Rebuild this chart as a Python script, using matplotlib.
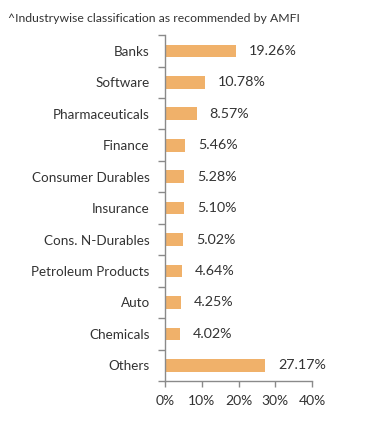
import matplotlib
matplotlib.use("Agg")
import matplotlib.pyplot as plt
import numpy as np

categories = ["Banks", "Software", "Pharmaceuticals", "Finance", "Consumer Durables",
              "Insurance", "Cons. N-Durables", "Petroleum Products", "Auto", "Chemicals", "Others"]
values = [19.26, 10.78, 8.57, 5.46, 5.28, 5.10, 5.02, 4.64, 4.25, 4.02, 27.17]
xticks = [0, 10, 20, 30, 40]
title = "^Industrywise classification as recommended by AMFI"

plt.rcParams['font.family'] = ['Lato', 'DejaVu Sans']
text_color = "#333333"
spine_color = "#8a8a8a"
bar_color = "#F0B16A"

fig = plt.figure(figsize=(3.91, 4.34), dpi=100)
ax = fig.add_axes([0.422, 0.122, 0.376, 0.797])

y = np.arange(len(categories))
ax.barh(y, values, height=0.4, color=bar_color)
ax.set_ylim(len(categories) - 0.5, -0.5)
ax.set_xlim(0, 40)

for yi, v in zip(y, values):
    ax.annotate(f"{v:.2f}%", (v, yi), xytext=(9.5, 0), textcoords="offset points",
                va="center", ha="left", fontsize=10.3, color=text_color)

ax.set_yticks(y)
ax.set_yticklabels(categories)
ax.set_yticks(np.arange(-0.5, len(categories), 1.0), minor=True)
ax.tick_params(axis="y", which="major", length=0, pad=11, labelsize=9.7, labelcolor=text_color)
ax.tick_params(axis="y", which="minor", length=5, width=1, color=spine_color)

ax.set_xticks(xticks)
ax.set_xticklabels([f"{t}%" for t in xticks])
ax.tick_params(axis="x", length=4, width=1, color=spine_color, labelsize=10, labelcolor=text_color, pad=6)

for s in ["top", "right"]:
    ax.spines[s].set_visible(False)
for s in ["left", "bottom"]:
    ax.spines[s].set_color(spine_color)
    ax.spines[s].set_linewidth(1)

fig.text(8 / 391, 1 - 18 / 434, title, fontsize=8.8, color=text_color, va="center", ha="left")

fig.savefig("out.png", dpi=100)
